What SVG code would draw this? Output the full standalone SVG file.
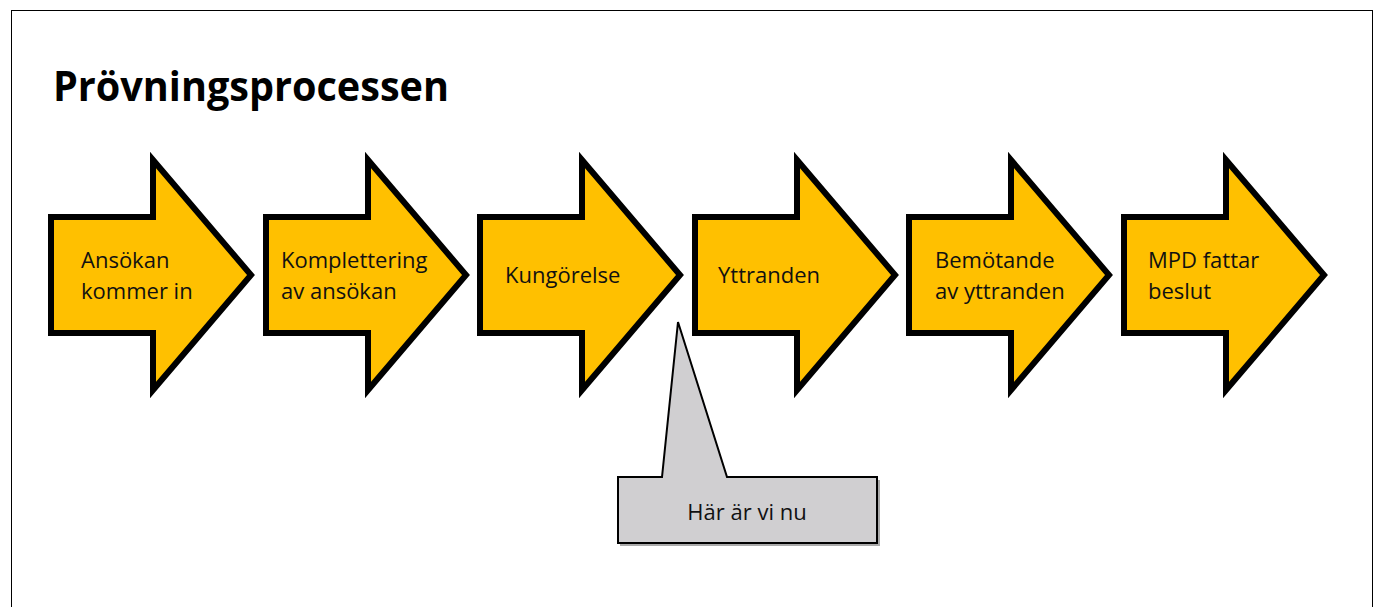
<svg xmlns="http://www.w3.org/2000/svg" width="1382" height="607" viewBox="0 0 1382 607">
<style>
.arrow{fill:#FFC000;stroke:#000;stroke-width:6;stroke-linejoin:miter}
.lbl{font-family:"Open Sans","Liberation Sans",sans-serif;font-size:22px;fill:#111}
.title{font-family:"Open Sans","Liberation Sans",sans-serif;font-size:41px;font-weight:bold;fill:#000}
.callout{fill:#D0CFD1;stroke:#000;stroke-width:2}
</style>
<defs>
<path id="arr" d="M0,217 H102 V160 L200,275 L102,390 V333 H0 Z"/>
</defs>
<rect x="0" y="0" width="1382" height="607" fill="#fff"/>
<rect x="11.5" y="10.5" width="1361" height="620" fill="none" stroke="#000" stroke-width="1"/>
<text class="title" x="53" y="101" textLength="396" lengthAdjust="spacingAndGlyphs">Prövningsprocessen</text>
<g id="connectors"></g>
<g id="n1"><use href="#arr" class="arrow" x="51"/><text class="lbl" x="81" y="268">Ansökan</text><text class="lbl" x="81" y="299">kommer in</text></g>
<g id="n2"><use href="#arr" class="arrow" x="266"/><text class="lbl" x="281" y="268">Komplettering</text><text class="lbl" x="281" y="299">av ansökan</text></g>
<g id="n3"><use href="#arr" class="arrow" x="480"/><text class="lbl" x="505" y="283">Kungörelse</text></g>
<g id="n4"><use href="#arr" class="arrow" x="695"/><text class="lbl" x="718" y="283">Yttranden</text></g>
<g id="n5"><use href="#arr" class="arrow" x="909"/><text class="lbl" x="935" y="268">Bemötande</text><text class="lbl" x="935" y="299">av yttranden</text></g>
<g id="n6"><use href="#arr" class="arrow" x="1124"/><text class="lbl" x="1148" y="268">MPD fattar</text><text class="lbl" x="1148" y="299">beslut</text></g>
<g id="callout">
<path d="M620,545 H879 V480" fill="none" stroke="#aaa" stroke-width="2"/>
<path class="callout" d="M618,477 H662 L678,322 L727,477 H877 V543 H618 Z"/>
<text class="lbl" x="747" y="520" text-anchor="middle" fill="#222">Här är vi nu</text>
</g>
</svg>
